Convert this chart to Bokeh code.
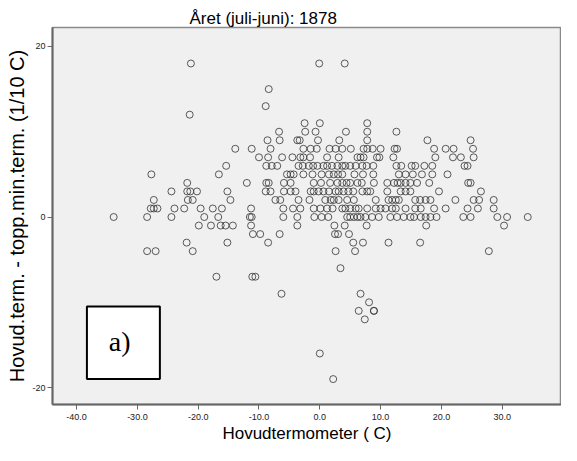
from bokeh.plotting import figure
from bokeh.models import FixedTicker, PrintfTickFormatter, BoxAnnotation, Label, Range1d, ColumnDataSource
from bokeh.embed import file_html
from bokeh.resources import INLINE

title_text = "Året (juli-juni): 1878"
x_label = "Hovudtermometer ( C)"
y_label = "Hovud.term. - topp.min.term. (1/10 C)"
x_ticks = [-40, -30, -20, -10, 0, 10, 20, 30]
y_ticks = [-20, 0, 20]
panel_tag = "a)"

# Hovudtermometer values (x) for each difference row (y, 1/10 C)
row_p18 = [-21.2, -0.1, 4.1]
row_p15 = [-8.4]
row_p13 = [-8.9]
row_p12 = [-21.4]
row_p11 = [-2.5, 0.0, 7.8]
row_p10 = [-6.7, -2.4, -0.7, 4.3, 7.8, 12.6]
row_p9 = [-8.6, -6.6, -3.7, -3.3, -0.3, 3.2, 7.8, 17.7, 24.8]
row_p8 = [-13.9, -11.2, -8.1, -2.7, -1.5, -0.5, 1.6, 2.6, 3.7, 5.1, 7.2, 7.8, 8.7, 10.0,
          12.3, 12.7, 18.8, 20.7, 22.0, 25.2]
row_p7 = [-10.0, -8.5, -6.2, -4.5, -3.2, -2.7, -1.6, 1.2, 3.1, 6.2, 6.7, 7.2, 9.4, 9.8,
          12.1, 19.0, 21.9, 23.2, 25.3]
row_p6 = [-15.4, -8.8, -7.9, -7.0, -3.5, -2.8, -1.8, -1.1, -0.4, 0.6, 1.2, 2.0, 2.9, 3.7,
          4.2, 5.0, 5.9, 7.0, 7.7, 8.8, 12.6, 13.4, 15.1, 15.7, 17.2, 18.5, 23.8, 24.3]
row_p5 = [-27.7, -16.6, -5.4, -4.8, -4.3, -2.7, -1.2, 0.3, 1.5, 2.3, 3.0, 3.7, 5.7, 7.1,
          8.8, 13.0, 14.1, 15.3, 16.8, 18.5, 21.0]
row_p4 = [-21.8, -12.0, -8.8, -8.4, -5.9, -4.8, -1.0, 0.2, 1.7, 2.9, 3.7, 4.4, 5.0, 6.2,
          6.9, 8.9, 11.1, 12.2, 12.8, 13.3, 14.1, 14.9, 16.0, 18.0, 24.4, 24.8]
row_p3 = [-24.4, -21.8, -21.3, -20.2, -15.2, -8.9, -8.1, -5.9, -4.8, -4.0, -1.5, -1.0,
          -0.2, 0.6, 1.5, 2.6, 3.1, 3.9, 4.7, 5.5, 7.0, 7.8, 8.3, 11.1, 13.3, 14.1, 14.9,
          19.6, 26.5]
row_p2 = [-27.3, -21.7, -20.9, -14.7, -7.3, -6.5, -3.5, -1.7, 0.9, 1.8, 2.3, 3.1, 4.5,
          5.6, 9.2, 11.3, 11.9, 12.5, 13.0, 15.7, 16.5, 17.4, 18.2, 22.3, 25.3, 26.2, 28.6]
row_p1 = [-27.8, -27.3, -26.7, -23.9, -22.3, -19.6, -17.6, -16.1, -11.3, -6.0, -4.4,
          -3.2, -1.0, 0.1, 1.2, 2.1, 3.7, 4.2, 5.0, 5.9, 6.4, 7.8, 9.2, 10.0, 10.8, 11.9,
          12.5, 14.1, 15.7, 16.6, 18.8, 20.7, 24.3, 26.0, 28.6]
row_0 = [-33.9, -28.4, -24.4, -19.0, -16.7, -11.5, -11.2, -6.0, -3.7, -0.9, 0.3, 1.4,
         4.5, 5.0, 5.6, 6.2, 6.7, 7.5, 8.6, 9.7, 11.6, 12.7, 13.8, 14.9, 15.5, 16.6, 17.4,
         18.2, 19.2, 23.6, 24.8, 29.2, 30.8, 34.2]
row_m1 = [-19.9, -17.9, -16.3, -15.5, -14.3, -11.3, -3.7, 2.4, 4.1, 7.7, 17.5, 30.3]
row_m2 = [-11.0, -9.8, -6.6, 2.5, 3.0, 4.8]
row_m3 = [-21.9, -15.2, -8.5, 5.5, 7.1, 11.3, 16.5]
row_m4 = [-28.4, -27.0, -20.9, 2.6, 5.8, 27.8]
row_m6 = [3.4]
row_m7 = [-17.0, -11.1, -10.6]
row_m9 = [-6.3, 6.7]
row_m10 = [8.1]
row_m11 = [6.4, 8.9, 8.9]
row_m12 = [7.4]
row_m16 = [0.0]
row_m19 = [2.2]

rows = [(18, row_p18), (15, row_p15), (13, row_p13), (12, row_p12), (11, row_p11),
        (10, row_p10), (9, row_p9), (8, row_p8), (7, row_p7), (6, row_p6), (5, row_p5),
        (4, row_p4), (3, row_p3), (2, row_p2), (1, row_p1), (0, row_0), (-1, row_m1),
        (-2, row_m2), (-3, row_m3), (-4, row_m4), (-6, row_m6), (-7, row_m7),
        (-9, row_m9), (-10, row_m10), (-11, row_m11), (-12, row_m12), (-16, row_m16),
        (-19, row_m19)]

xs, ys = [], []
for yv, row in rows:
    xs.extend(row)
    ys.extend([yv] * len(row))
src = ColumnDataSource(data=dict(x=xs, y=ys))

p = figure(width=561, height=445, output_backend="svg", toolbar_location=None,
           x_range=Range1d(-43.96, 39.75), y_range=Range1d(-21.98, 22.22),
           min_border_left=52, min_border_right=0, min_border_top=27, min_border_bottom=39)

p.background_fill_color = "#f0f0f0"
p.border_fill_color = "white"
p.outline_line_color = "#8a8a8a"
p.outline_line_width = 1.5
p.xgrid.visible = False
p.ygrid.visible = False

p.title.text = title_text
p.title.align = "left"
p.title.offset = 137
p.title.standoff = 0
p.title.text_font = "Liberation Sans"
p.title.text_font_size = "17px"
p.title.text_font_style = "normal"
p.title.text_color = "#000000"

for ax in (p.xaxis[0], p.yaxis[0]):
    ax.axis_line_color = "#666666"
    ax.axis_line_width = 2
    ax.major_tick_line_color = "#666666"
    ax.major_tick_in = 0
    ax.major_tick_out = 5
    ax.minor_tick_line_color = None
    ax.major_label_text_font = "Liberation Sans"
    ax.major_label_text_font_size = "9px"
    ax.major_label_text_color = "#222222"
    ax.axis_label_text_font = "Liberation Sans"
    ax.axis_label_text_font_style = "normal"
    ax.axis_label_text_color = "#000000"

p.xaxis.ticker = FixedTicker(ticks=x_ticks)
p.xaxis.formatter = PrintfTickFormatter(format="%.1f")
p.xaxis.axis_label = x_label
p.xaxis.axis_label_text_font_size = "17px"
p.xaxis.major_label_standoff = 4
p.xaxis.axis_label_standoff = 1

p.yaxis.ticker = FixedTicker(ticks=y_ticks)
p.yaxis.formatter = PrintfTickFormatter(format="%d")
p.yaxis.axis_label = y_label
p.yaxis.axis_label_text_font_size = "20px"
p.yaxis.major_label_standoff = 2
p.yaxis.axis_label_standoff = 1

p.scatter("x", "y", source=src, marker="circle", size=7, fill_color=None,
          line_color="#333333", line_alpha=0.8, line_width=1)

box = BoxAnnotation(left=-38.3, right=-26.3, top=-10.5, bottom=-19.0,
                    fill_color="white", fill_alpha=1.0, line_color="black",
                    line_alpha=1.0, line_width=2)
p.add_layout(box)
p.add_layout(Label(x=-32.9, y=-14.6, text=panel_tag, text_align="center",
                   text_baseline="middle", text_font="Liberation Serif",
                   text_font_size="28px", text_color="black"))

open("out.html", "w").write(file_html(p, INLINE))
